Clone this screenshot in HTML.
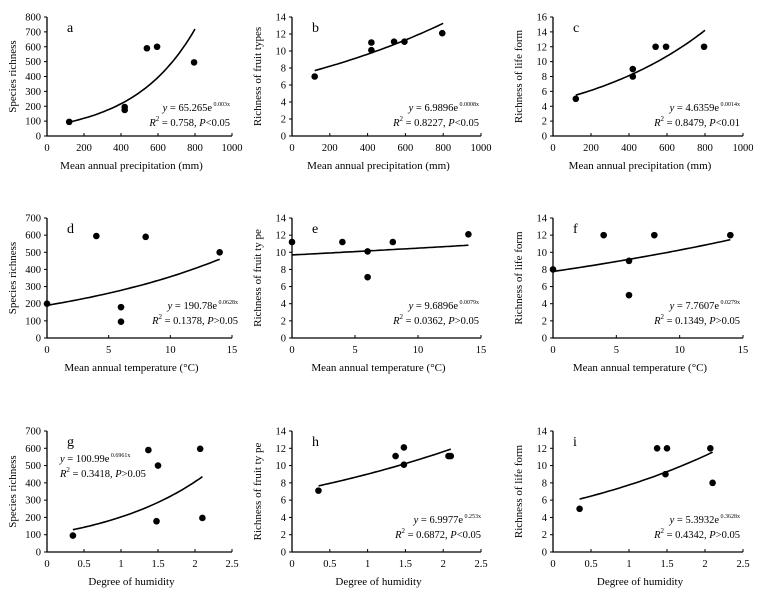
<!DOCTYPE html>
<html><head><meta charset="utf-8"><style>
html,body{margin:0;padding:0;background:#fff}
svg{display:block;font-family:"Liberation Serif",serif}
</style></head><body>
<svg id="fig" width="770" height="609" viewBox="0 0 770 609" xmlns="http://www.w3.org/2000/svg"></svg>
<script>
// Panel data arrays
const precipX = [120, 420, 420, 540, 595, 795];
const aSpecies = [95, 195, 175, 590, 600, 495];
const bFruit = [7, 11, 10.1, 11.1, 11.1, 12.1];
const cLife = [5, 9, 8, 12, 12, 12];
const tempX = [0, 4, 8, 6, 6, 14];
const dSpecies = [200, 595, 590, 180, 95, 500];
const eFruit = [11.2, 11.2, 11.2, 10.1, 7.1, 12.1];
const fLife = [8, 12, 12, 9, 5, 12];
const humX = [0.35, 1.37, 1.5, 1.48, 2.07, 2.1];
const gSpecies = [95, 590, 500, 178, 597, 197];
const hHumX = [0.35, 1.37, 1.48, 1.48, 2.07, 2.1];
const hFruit = [7.1, 11.1, 12.1, 10.1, 11.1, 11.1];
const iLife = [5, 12, 12, 9, 12, 8];
const fitA = [65.265, 0.003], fitB = [6.9896, 0.0008], fitC = [4.6359, 0.0014];
const fitD = [190.78, 0.0628], fitE = [9.6896, 0.0079], fitF = [7.7607, 0.0279];
const fitG = [100.99, 0.6961], fitH = [6.9977, 0.253], fitI = [5.3932, 0.3628];
const precipTicks = [0, 200, 400, 600, 800, 1000];
const tempTicks = [0, 5, 10, 15];
const humTicks = [0, 0.5, 1, 1.5, 2, 2.5];

const NS = "http://www.w3.org/2000/svg";
const svg = document.getElementById('fig');
function mk(tag, attrs, parent, text) {
  const e = document.createElementNS(NS, tag);
  for (const k in attrs) e.setAttribute(k, attrs[k]);
  if (text !== undefined) e.textContent = text;
  (parent || svg).appendChild(e);
  return e;
}

const cols = [{x0: 47, w: 185}, {x0: 292, w: 189}, {x0: 553, w: 190}];
const rows = [{y0: 136, top: 17}, {y0: 338, top: 218}, {y0: 552, top: 431}];

function panel(o) {
  const c = cols[o.col], r = rows[o.row];
  const g = mk('g', {});
  
  
  const xs = v => c.x0 + (v - o.xt[0]) / (o.xt[o.xt.length - 1] - o.xt[0]) * c.w;
  const ys = v => r.y0 - v / o.ymax * (r.y0 - r.top);
  // axes
  const ax = mk('path', {d: `M${c.x0},${r.top}V${r.y0}H${c.x0 + c.w}`, stroke: '#000', 'stroke-width': 1.3, fill: 'none'}, g);
  
  
  for (let v = 0; v <= o.ymax + 1e-9; v += o.ystep) {
    const y = ys(v);
    mk('line', {x1: c.x0 - 3, x2: c.x0, y1: y, y2: y, stroke: '#000'}, g);
    const t = mk('text', {x: c.x0 - 6, y: y + 3.5, 'font-size': 10.5, 'text-anchor': 'end'}, g, String(v));
    
    
  }
  o.xt.forEach(v => {
    const x = xs(v);
    mk('line', {x1: x, x2: x, y1: r.y0, y2: r.y0 - 3, stroke: '#000'}, g);
    const t = mk('text', {x: x, y: r.y0 + 15, 'font-size': 10.5, 'text-anchor': 'middle'}, g, String(v));
    
    
  });
  const xt = mk('text', {x: c.x0 + c.w / 2 - 8, y: r.y0 + 33, 'font-size': 11, 'text-anchor': 'middle'}, g, o.xlabel);
  
  
  const yx = c.x0 - 31, yy = (r.y0 + r.top) / 2;
  const yt = mk('text', {x: yx, y: yy, 'font-size': 11, 'text-anchor': 'middle', transform: `rotate(-90 ${yx} ${yy})`}, g, o.ylabel);
  
  
  const lt = mk('text', {x: c.x0 + 20, y: r.top + 15, 'font-size': 14}, g, o.letter);
  
  
  // fit curve
  let d = '';
  const n = 40;
  for (let i = 0; i <= n; i++) {
    const xv = o.fr[0] + (o.fr[1] - o.fr[0]) * i / n;
    const yv = o.fit[0] * Math.exp(o.fit[1] * xv);
    d += (i ? 'L' : 'M') + xs(xv).toFixed(1) + ',' + ys(yv).toFixed(1);
  }
  const cv = mk('path', {d: d, stroke: '#000', 'stroke-width': 1.6, fill: 'none'}, g);
  
  
  o.x.forEach((xv, i) => {
    const p = mk('circle', {cx: xs(xv), cy: ys(o.y[i]), r: 3.3, fill: '#000'}, g);
    
    
  });
  // equation
  const e1 = mk('text', {x: o.ex, y: o.ey, 'font-size': 10.5, 'text-anchor': o.anchor || 'end'}, g);
  
  
  mk('tspan', {'font-style': 'italic'}, e1, 'y');
  mk('tspan', {}, e1, ' = ' + o.eq[0] + 'e');
  mk('tspan', {'font-size': 6, dy: -5}, e1, ' ' + o.eq[1] + 'x');
  const e2 = mk('text', {x: o.ex, y: o.ey + 15, 'font-size': 10.5, 'text-anchor': o.anchor || 'end'}, g);
  
  
  mk('tspan', {'font-style': 'italic'}, e2, 'R');
  mk('tspan', {'font-size': 7, dy: -5}, e2, '2');
  mk('tspan', {dy: 5}, e2, ' = ' + o.r2 + ', ');
  mk('tspan', {'font-style': 'italic'}, e2, 'P');
  mk('tspan', {}, e2, o.p);
}

const PX = 'Mean annual precipitation (mm)', TX = 'Mean annual  temperature (°C)', HX = 'Degree of humidity';
panel({letter: 'a', col: 0, row: 0, xt: precipTicks, ymax: 800, ystep: 100, x: precipX, y: aSpecies, fit: fitA, fr: [120, 800], xlabel: PX, ylabel: 'Species richness', eq: ['65.265', '0.003'], r2: '0.758', p: '<0.05', ex: 230, ey: 111});
panel({letter: 'b', col: 1, row: 0, xt: precipTicks, ymax: 14, ystep: 2, x: precipX, y: bFruit, fit: fitB, fr: [120, 800], xlabel: 'Mean  annual  precipitation  (mm)', ylabel: 'Richness of  fruit types', eq: ['6.9896', '0.0008'], r2: '0.8227', p: '<0.05', ex: 479, ey: 111});
panel({letter: 'c', col: 2, row: 0, xt: precipTicks, ymax: 16, ystep: 2, x: precipX, y: cLife, fit: fitC, fr: [120, 800], xlabel: PX, ylabel: 'Richness of  life form', eq: ['4.6359', '0.0014'], r2: '0.8479', p: '<0.01', ex: 740, ey: 111});
panel({letter: 'd', col: 0, row: 1, xt: tempTicks, ymax: 700, ystep: 100, x: tempX, y: dSpecies, fit: fitD, fr: [0, 14], xlabel: TX, ylabel: 'Species richness', eq: ['190.78', '0.0628'], r2: '0.1378', p: '>0.05', ex: 238, ey: 309});
panel({letter: 'e', col: 1, row: 1, xt: tempTicks, ymax: 14, ystep: 2, x: tempX, y: eFruit, fit: fitE, fr: [0, 14], xlabel: TX, ylabel: 'Richness of fruit ty pe', eq: ['9.6896', '0.0079'], r2: '0.0362', p: '>0.05', ex: 479, ey: 309});
panel({letter: 'f', col: 2, row: 1, xt: tempTicks, ymax: 14, ystep: 2, x: tempX, y: fLife, fit: fitF, fr: [0, 14], xlabel: TX, ylabel: 'Richness of life form', eq: ['7.7607', '0.0279'], r2: '0.1349', p: '>0.05', ex: 740, ey: 309});
panel({letter: 'g', col: 0, row: 2, xt: humTicks, ymax: 700, ystep: 100, x: humX, y: gSpecies, fit: fitG, fr: [0.35, 2.1], xlabel: HX, ylabel: 'Species richness', eq: ['100.99', '0.6961'], r2: '0.3418', p: '>0.05', ex: 60, ey: 462, anchor: 'start'});
panel({letter: 'h', col: 1, row: 2, xt: humTicks, ymax: 14, ystep: 2, x: hHumX, y: hFruit, fit: fitH, fr: [0.35, 2.1], xlabel: HX, ylabel: 'Richness of fruit ty pe', eq: ['6.9977', '0.253'], r2: '0.6872', p: '<0.05', ex: 481, ey: 523});
panel({letter: 'i', col: 2, row: 2, xt: humTicks, ymax: 14, ystep: 2, x: humX, y: iLife, fit: fitI, fr: [0.35, 2.1], xlabel: HX, ylabel: 'Richness of life form', eq: ['5.3932', '0.3628'], r2: '0.4342', p: '>0.05', ex: 740, ey: 523});
</script>
</body></html>
